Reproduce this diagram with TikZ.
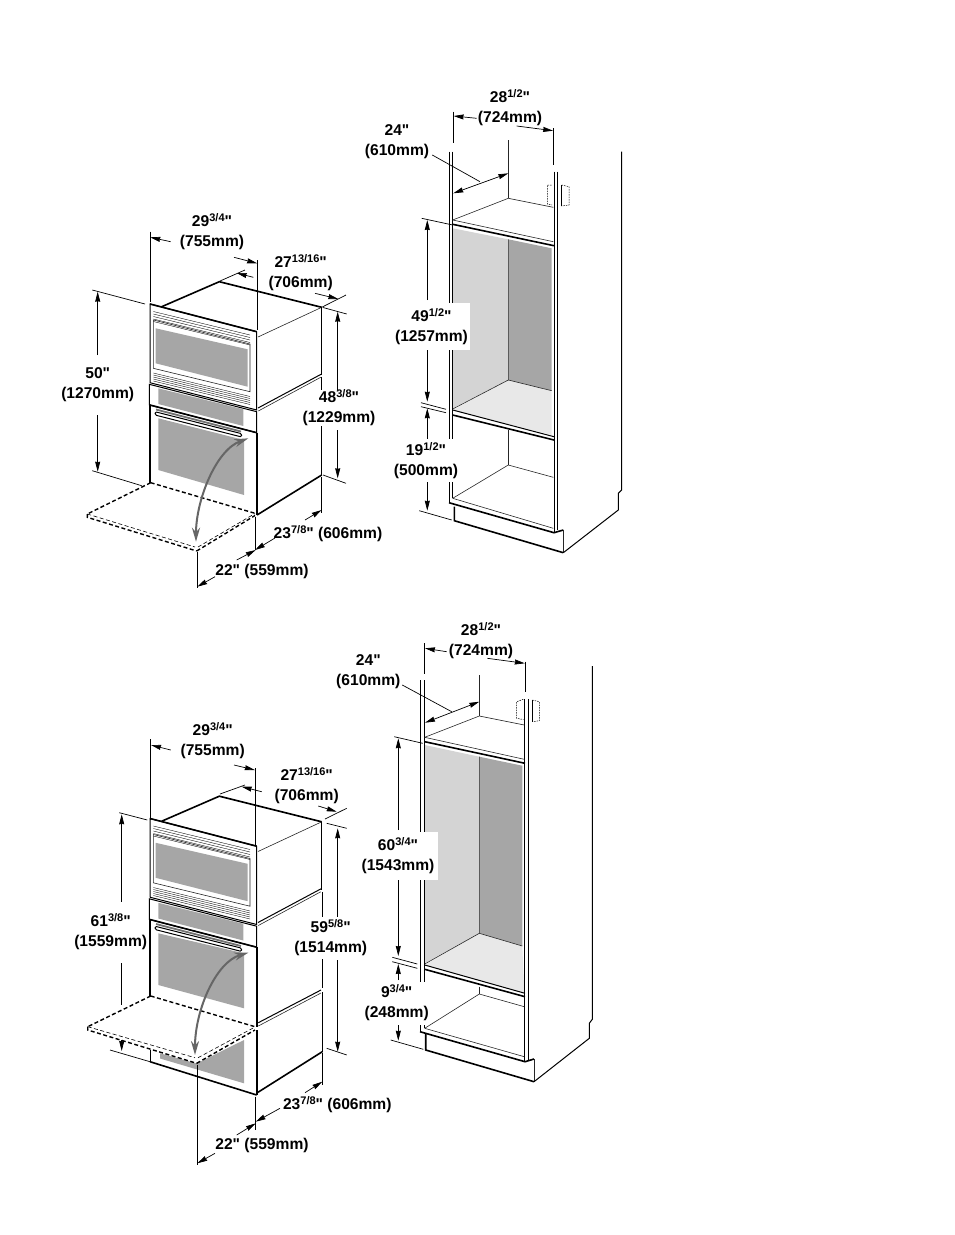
\documentclass[tikz,border=0pt]{standalone}
\usepackage{fontspec}
\newfontfamily\dimfont{Liberation Sans}
\usetikzlibrary{arrows.meta}
\definecolor{panellight}{gray}{0.83}
\definecolor{paneldark}{gray}{0.65}
\definecolor{panelfloor}{gray}{0.91}
\tikzset{
  dimline/.style={line width=0.7pt, black},
  dimtip/.style={dimline, -{Stealth[length=10pt,width=5pt,inset=0.5pt]}},
  dimboth/.style={dimline, {Stealth[length=10pt,width=5pt,inset=0.5pt]}-{Stealth[length=10pt,width=5pt,inset=0.5pt]}},
  thinline/.style={line width=0.6pt, black!85},
  thickline/.style={line width=1.6pt, black},
  medline/.style={line width=1pt, black},
  doorthick/.style={line width=1.4pt, black, dash pattern=on 4pt off 2.5pt},
  doorthin/.style={line width=0.6pt, black, dash pattern=on 4pt off 2.5pt},
  glass/.style={fill=black!35, draw=none},
  swing/.style={line width=2pt, black!60, {Stealth[length=14pt,width=8pt]}-{Stealth[length=14pt,width=8pt]}},
  dimlabel/.style={inner sep=0pt, align=center, yshift=-1.5pt, font=\fontsize{15.6}{20}\selectfont\dimfont\bfseries},
  boxlabel/.style={dimlabel, fill=white},
}
\newcommand{\frc}[1]{\raisebox{0.32em}{\fontsize{11}{10}\selectfont #1}}
% upper oven and the band of the lower one, same in both pictures
\newcommand{\ovenfront}{
  \fill[glass] (155.7,328.3) -- (247.7,349.3) -- (247.7,386.7) -- (155.7,363.3) -- cycle;
  \fill[glass] (158.3,388.3) -- (243.3,409.3) -- (243.3,426) -- (158.3,404) -- cycle;
  \draw[thinline] (153.3,320) -- (250,344) -- (250,391.7) -- (153.3,368.3) -- cycle;
  \foreach \v in {0,2.5,5,7.5,10} {
    \draw[line width=0.35pt] (153.3,311.5+\v) -- (250,335+\v);
    \draw[line width=0.35pt] (153.3,373+\v*0.8) -- (250,396.5+\v*0.8);
  }
  \draw[medline] (150,304) -- (256.7,331.7) -- (256.7,410) -- (150,382.7) -- cycle;
  \draw[thickline] (150,304) -- (256.7,331.7);
  \draw[thickline] (161.7,306.7) -- (219.3,281.7) -- (321.7,307.3);
  \draw[thinline] (258,337) -- (321.7,307.3);
  \draw[medline] (321.7,307.3) -- (321.7,375);
  \draw[medline] (258,408) -- (321,374.3);
  \draw[thinline] (258.3,411) -- (320.7,377.3);
  \draw[medline] (149.3,384.3) -- (256.7,411.7) -- (256.7,432.7) -- (149.3,405) -- cycle;
  \draw[thickline] (150,405) -- (256.7,432.7);
  \draw[line width=1.8pt, black!55] (156,409.5) -- (241,431.5);
  \draw[medline, rounded corners=1.5pt, fill=white] (155,411.7) -- (241.7,433.7) -- (241.7,437) -- (155,415) -- cycle;
}
\begin{document}
\begin{tikzpicture}[x=1pt,y=-1pt]
  \useasboundingbox (0,0) rectangle (954,1235);

  % ---- first oven
  \ovenfront
  \fill[glass] (158.3,418.3) -- (244,440) -- (244,495) -- (158.3,470) -- cycle;
  \draw[thickline] (150,405) -- (150,483.3);
  \draw[thickline] (256.7,432.7) -- (256.7,515);
  \draw[medline] (321.7,376.7) -- (321.7,475);
  \draw[thickline] (321.7,475) -- (257,515);
  \draw[doorthick] (150.7,482.7) -- (255,513.3);
  \draw[doorthick] (150.7,482.7) -- (87.3,514);
  \draw[doorthin] (87.3,514) -- (195,547);
  \draw[doorthin] (198,547) -- (255,513.5);
  \draw[doorthick] (87.3,514) -- (87.3,517.3) -- (196.7,551);
  \draw[doorthick] (196.7,551) -- (255,515.5);
  \draw[swing] (248.3,438.3) .. controls (216,450) and (196,500) .. (196,541.7);

  % dimensions of the first oven
  \draw[dimline] (150,231.7) -- (150,301.7);
  \draw[dimtip] (170.7,241.7) -- (150.3,237.3);
  \draw[dimline] (257.3,260) -- (257.3,330);
  \draw[dimtip] (234,257.3) -- (257.1,263.3);
  \node[dimlabel] (widthA) at (212,230) {29\frc{3/4}"\\(755mm)};

  \draw[dimline] (220,281) -- (245,270);
  \draw[dimline] (321.7,307.3) -- (346,295);
  \draw[dimtip] (253.3,277.3) -- (236.7,273);
  \draw[dimtip] (315,293.3) -- (338.3,299);
  \node[dimlabel] (depthA) at (300.7,271) {27\frc{13/16}"\\(706mm)};

  \draw[dimline] (92.3,290) -- (145,304);
  \draw[dimline] (92.3,470.7) -- (141.7,485.7);
  \draw[dimtip] (97.7,355) -- (97.7,291.7);
  \draw[dimtip] (97.7,415) -- (97.7,471.7);
  \node[dimlabel] (heightA) at (97.7,383.5) {50"\\(1270mm)};

  \draw[dimline] (323,307.5) -- (346.7,314);
  \draw[dimline] (323,475) -- (346,483.3);
  \draw[dimtip] (337.7,391.7) -- (337.7,311.7);
  \draw[dimtip] (337.7,430) -- (337.7,478.3);
  \node[boxlabel] (cutoutA) at (339,406.5) {48\frc{3/8}"\\(1229mm)};

  \draw[dimline] (321.7,477) -- (321.7,513.3);
  \draw[dimtip] (305,520) -- (321.7,510);
  \draw[dimtip] (275,538) -- (255,550);
  \node[dimlabel] (frontA) at (328,532) {23\frc{7/8}" (606mm)};

  \draw[dimline] (255.7,516.7) -- (255.7,550);
  \draw[dimline] (197.3,552) -- (197.3,588.3);
  \draw[dimtip] (215,576.7) -- (197.3,586.7);
  \draw[dimtip] (236.7,560) -- (255.7,550);
  \node[dimlabel] (doorA) at (262,569.7) {22" (559mm)};

  % ---- first cabinet
  \fill[panellight] (452.7,228.3) -- (508.3,239.3) -- (508.3,380) -- (452.7,408.3) -- cycle;
  \fill[paneldark] (508.3,239.3) -- (551.7,248.3) -- (551.7,390.7) -- (508.3,380) -- cycle;
  \fill[panelfloor] (452.7,410) -- (508.3,380) -- (551.7,390.7) -- (551.7,435) -- cycle;
  \draw[thinline] (508.3,239.3) -- (508.3,380) -- (452.7,409);
  \draw[thinline] (508.3,380) -- (551.7,390.7);
  \draw[medline] (449,151.7) -- (449,501.7);
  \draw[medline] (452.7,151.7) -- (452.7,498.3);
  \draw[medline] (554,171.7) -- (554,532);
  \draw[medline] (557.7,171.7) -- (557.7,530);
  \draw[thinline] (508.3,140) -- (508.3,198.3);
  \draw[thinline] (452.7,220) -- (508.3,198.3) -- (553.3,207.3);
  \draw[thinline] (452.7,220) -- (553.3,241.7);
  \draw[thickline] (452.7,224.3) -- (554,245.7);
  \draw[medline] (452.7,410) -- (554,436.7);
  \draw[thickline] (452.7,415) -- (554,440);
  \draw[thinline] (508.3,430) -- (508.3,465);
  \draw[thinline] (452.7,498.3) -- (508.3,465) -- (553.3,477.3);
  \draw[thinline] (452.7,498.3) -- (553.3,528.3);
  \draw[thickline] (449,502.7) -- (554,532.7) -- (563.3,530);
  \draw[thickline] (454.3,506.7) -- (454.3,520.7) -- (563.3,552.7);
  \draw[thinline] (563.3,530) -- (563.3,552.7);
  \draw[medline] (563.3,552.7) -- (618.3,510) -- (618.3,493.3) -- (621.7,490) -- (621.7,151.7);
  \draw[line width=0.5pt, dash pattern=on 1.5pt off 1pt] (551.7,185) -- (547.3,185) -- (547.3,204) -- (552,205);
  \draw[line width=0.5pt, dash pattern=on 1.5pt off 1pt] (561.7,185) -- (569,186.7) -- (569,205) -- (561.7,206);
  \draw[line width=0.5pt] (561.7,185) -- (561.7,206);

  % dimensions of the first cabinet
  \draw[dimline] (453.3,111.7) -- (453.3,143.3);
  \draw[dimline] (553.3,128.3) -- (553.3,165);
  \draw[dimtip] (476.7,118.3) -- (453.6,116);
  \draw[dimtip] (516.7,126) -- (553.1,130.7);
  \node[dimlabel] (widthB) at (510,106.3) {28\frc{1/2}"\\(724mm)};
  \draw[dimline] (432.3,155) -- (480,181.7);
  \draw[dimboth] (453.3,193.3) -- (508.3,173.3);
  \node[dimlabel] (depthB) at (397,140.3) {24"\\(610mm)};
  \draw[dimline] (421.7,218.3) -- (452.7,225);
  \draw[dimtip] (427.3,300) -- (427.3,220);
  \draw[dimtip] (427.3,348) -- (427.3,401.7);
  \node[boxlabel, minimum width=77pt, minimum height=47pt] (heightB) at (431.5,325) {49\frc{1/2}"\\(1257mm)};
  \draw[dimline] (421,402.7) -- (446,409.3);
  \draw[dimline] (421,406.7) -- (446,412.7);
  \draw[dimtip] (427.3,440) -- (427.3,408.3);
  \draw[dimtip] (427.3,481.7) -- (427.3,510.7);
  \draw[dimline] (419.3,510.7) -- (451.7,520);
  \node[boxlabel, minimum width=64pt, minimum height=43pt] (baseB) at (426,459) {19\frc{1/2}"\\(500mm)};

  % ---- second oven
  \begin{scope}[yshift=-514.5pt]
    \ovenfront
  \end{scope}
  \fill[glass] (158.3,933.3) -- (244,953.3) -- (244,1008.3) -- (158.3,985) -- cycle;
  \fill[glass] (160,1053.3) -- (196.7,1063.5) -- (244,1040) -- (244,1083.3) -- (160,1058.5) -- cycle;
  \draw[thickline] (150,919.5) -- (150,996);
  \draw[thickline] (256.7,947.2) -- (256.7,1027);
  \draw[medline] (150,1050) -- (150,1061.7);
  \draw[thickline] (150,1061.7) -- (256.7,1095);
  \draw[thickline] (256.7,1030) -- (256.7,1095);
  \draw[medline] (322.3,892) -- (322.3,988);
  \draw[medline] (258.3,1022.7) -- (321,990);
  \draw[thinline] (258.3,1026) -- (321,993);
  \draw[medline] (322.3,992) -- (322.3,1051.7);
  \draw[thickline] (322.3,1051.7) -- (257.3,1092.7);
  \draw[doorthick] (150.7,996) -- (255,1026.7);
  \draw[doorthick] (150.7,996) -- (87.7,1026.7);
  \draw[doorthin] (87.7,1026.7) -- (195,1057.7);
  \draw[doorthin] (198,1057.7) -- (255,1027);
  \draw[doorthick] (87.7,1026.7) -- (87.7,1030) -- (196.7,1063.3);
  \draw[doorthick] (196.7,1063.3) -- (255,1030);
  \draw[swing] (248.3,952.7) .. controls (216,962) and (195,1010) .. (195,1055);

  % dimensions of the second oven
  \draw[dimline] (150.7,739.3) -- (150.7,820);
  \draw[dimtip] (170.7,750) -- (151,745);
  \draw[dimline] (255,768.3) -- (255,845);
  \draw[dimtip] (234,765) -- (254.8,770);
  \node[dimlabel] (widthC) at (212.7,738.8) {29\frc{3/4}"\\(755mm)};

  \draw[dimline] (220,794) -- (245,785);
  \draw[dimline] (325,819) -- (346.7,808.3);
  \draw[dimtip] (261.7,791.7) -- (241.7,786.7);
  \draw[dimtip] (318.3,806) -- (336.7,811.7);
  \node[dimlabel] (depthC) at (306.7,784.2) {27\frc{13/16}"\\(706mm)};

  \draw[dimline] (119.3,812.7) -- (147.3,820);
  \draw[dimtip] (121.7,901.7) -- (121.7,814.3);
  \draw[dimline] (121.7,963.3) -- (121.7,1005);
  \draw[dimtip] (121.7,1040) -- (121.7,1051);
  \draw[dimline] (110,1050) -- (150,1061.7);
  \node[dimlabel] (heightC) at (110.7,930) {61\frc{3/8}"\\(1559mm)};

  \draw[dimline] (326.7,823.3) -- (346.7,828.3);
  \draw[dimline] (326.7,1048.3) -- (346.7,1055);
  \draw[dimtip] (337.7,920) -- (337.7,828.3);
  \draw[dimtip] (337.7,960) -- (337.7,1051.7);
  \node[boxlabel, minimum height=42pt] (cutoutC) at (330.7,936) {59\frc{5/8}"\\(1514mm)};

  \draw[dimline] (322.3,1053) -- (322.3,1085);
  \draw[dimtip] (305,1092.7) -- (322.3,1081.7);
  \draw[dimtip] (280,1108.3) -- (255.7,1121.7);
  \node[dimlabel] (frontC) at (337.3,1103.3) {23\frc{7/8}" (606mm)};

  \draw[dimline] (255.7,1096.7) -- (255.7,1130);
  \draw[dimline] (197.3,1065) -- (197.3,1165);
  \draw[dimtip] (215,1153.3) -- (197.3,1163.3);
  \draw[dimtip] (236.7,1135) -- (255.7,1123.3);
  \node[dimlabel] (doorC) at (262,1144) {22" (559mm)};

  % ---- second cabinet
  \fill[panellight] (424.7,745) -- (479.3,756.7) -- (479.3,933.3) -- (424.7,963.3) -- cycle;
  \fill[paneldark] (479.3,756.7) -- (522.3,765.7) -- (522.3,946) -- (479.3,933.3) -- cycle;
  \fill[panelfloor] (424.7,965) -- (479.3,933.3) -- (522.3,946) -- (524.3,993.3) -- cycle;
  \draw[thinline] (479.3,756.7) -- (479.3,933.3) -- (424.7,964);
  \draw[thinline] (479.3,933.3) -- (522.3,946);
  \draw[medline] (420,680) -- (420,1031.7);
  \draw[medline] (424,680) -- (424,1028.3);
  \draw[medline] (524.7,699.3) -- (524.7,1061);
  \draw[medline] (528.7,699.3) -- (528.7,1060.5);
  \draw[thinline] (479.3,675) -- (479.3,716);
  \draw[thinline] (424.7,737.3) -- (479.3,716) -- (524.3,725);
  \draw[thinline] (424.7,737.3) -- (524.3,759.3);
  \draw[thickline] (424.7,741.7) -- (525,763.3);
  \draw[medline] (424.7,965) -- (525,993.3);
  \draw[thickline] (424.7,969.3) -- (525,996.7);
  \draw[thinline] (479.3,986.7) -- (479.3,994);
  \draw[thinline] (424.7,1028.3) -- (479.3,994) -- (524.3,1006.7);
  \draw[thinline] (424.7,1028.3) -- (524.3,1056.7);
  \draw[thickline] (420,1031.7) -- (525,1061.7) -- (534,1059);
  \draw[thickline] (425.7,1034) -- (425.7,1050) -- (534,1081.7);
  \draw[thinline] (534,1059) -- (534,1081.7);
  \draw[medline] (534,1081.7) -- (589.3,1038.3) -- (589.3,1023.3) -- (592.3,1019.3) -- (592.3,666);
  \draw[line width=0.5pt, dash pattern=on 1.5pt off 1pt] (523.3,699.3) -- (516.7,701.7) -- (516.7,718.3) -- (523.3,719.5);
  \draw[line width=0.5pt, dash pattern=on 1.5pt off 1pt] (532.3,700) -- (539.3,701.7) -- (539.3,720.7) -- (532.3,721.7);
  \draw[line width=0.5pt] (532.3,700) -- (532.3,721.7);

  % dimensions of the second cabinet
  \draw[dimline] (424.7,643.3) -- (424.7,674);
  \draw[dimline] (525,661.7) -- (525,691.7);
  \draw[dimtip] (446.7,651.7) -- (425,648.3);
  \draw[dimtip] (487.3,658.3) -- (524.8,663.3);
  \node[dimlabel] (widthD) at (481,638.8) {28\frc{1/2}"\\(724mm)};
  \draw[dimline] (402.3,685) -- (451.7,711.7);
  \draw[dimboth] (425,722.7) -- (479.3,701.7);
  \node[dimlabel] (depthD) at (368.3,669.7) {24"\\(610mm)};
  \draw[dimline] (394.3,736.7) -- (422.7,743.3);
  \draw[dimtip] (398.3,830) -- (398.3,738.3);
  \draw[dimtip] (398.3,879.3) -- (398.3,956);
  \node[boxlabel, minimum width=80pt, minimum height=48pt] (heightD) at (398,854) {60\frc{3/4}"\\(1543mm)};
  \draw[dimline] (392.3,957.3) -- (417.3,964);
  \draw[dimline] (392.3,961.7) -- (417.3,968.3);
  \draw[dimtip] (398.3,980) -- (398.3,964);
  \draw[dimtip] (398.3,1023.3) -- (398.3,1040.7);
  \draw[dimline] (390.7,1040) -- (423.3,1049.3);
  \node[boxlabel, minimum width=60pt, minimum height=43pt] (baseD) at (396.7,1001.5) {9\frc{3/4}"\\(248mm)};
\end{tikzpicture}
\end{document}
